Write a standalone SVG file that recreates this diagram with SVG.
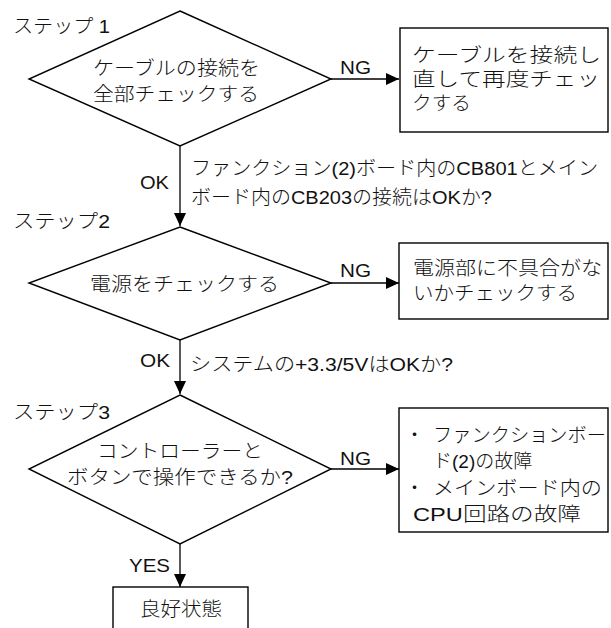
<svg xmlns="http://www.w3.org/2000/svg" width="611" height="628" viewBox="0 0 611 628">
<style>
  .shape { fill: #ffffff; stroke: #000000; stroke-width: 1.4; }
  .conn { fill: none; stroke: #000000; stroke-width: 1.3; }
  text { font-family: "Liberation Sans", "Noto Sans CJK JP", sans-serif; font-size: 19px; font-weight: 300; fill: #111111; }
</style>
<defs>
  <marker id="arrow" markerUnits="userSpaceOnUse" markerWidth="13" markerHeight="12" refX="13" refY="6" orient="auto">
    <path d="M0,0 L13,6 L0,12 z" fill="#000000"/>
  </marker>
</defs>
<rect width="611" height="628" fill="#ffffff"/>

<g id="connectors">
  <line class="conn" x1="331" y1="79" x2="399" y2="79" marker-end="url(#arrow)"/>
  <line class="conn" x1="180" y1="146" x2="180" y2="226" marker-end="url(#arrow)"/>
  <line class="conn" x1="331" y1="283" x2="399" y2="283" marker-end="url(#arrow)"/>
  <line class="conn" x1="180" y1="340" x2="180" y2="394" marker-end="url(#arrow)"/>
  <line class="conn" x1="331" y1="469" x2="399" y2="469" marker-end="url(#arrow)"/>
  <line class="conn" x1="180" y1="544" x2="180" y2="587" marker-end="url(#arrow)"/>
  <text x="340" y="74" textLength="31" lengthAdjust="spacingAndGlyphs">NG</text>
  <text x="140" y="189" textLength="29" lengthAdjust="spacingAndGlyphs">OK</text>
  <text x="191" y="175" textLength="407" lengthAdjust="spacingAndGlyphs">ファンクション(2)ボード内のCB801とメイン</text>
  <text x="191" y="204" textLength="301" lengthAdjust="spacingAndGlyphs">ボード内のCB203の接続はOKか?</text>
  <text x="340" y="277" textLength="31" lengthAdjust="spacingAndGlyphs">NG</text>
  <text x="140" y="367" textLength="30" lengthAdjust="spacingAndGlyphs">OK</text>
  <text x="190" y="371" textLength="263" lengthAdjust="spacingAndGlyphs">システムの+3.3/5VはOKか?</text>
  <text x="340" y="465" textLength="31" lengthAdjust="spacingAndGlyphs">NG</text>
  <text x="129" y="572" textLength="41" lengthAdjust="spacingAndGlyphs">YES</text>
</g>

<g id="step-labels">
  <text x="13" y="33" textLength="97" lengthAdjust="spacingAndGlyphs">ステップ 1</text>
  <text x="13" y="228" textLength="97" lengthAdjust="spacingAndGlyphs">ステップ2</text>
  <text x="13" y="419" textLength="97" lengthAdjust="spacingAndGlyphs">ステップ3</text>
</g>

<g id="step1">
  <polygon class="shape" points="180,11 331,79 180,146 29,79"/>
  <text x="93" y="75" textLength="167" lengthAdjust="spacingAndGlyphs">ケーブルの接続を</text>
  <text x="93" y="101" textLength="166" lengthAdjust="spacingAndGlyphs">全部チェックする</text>
</g>

<g id="reconnect">
  <rect class="shape" x="400" y="28" width="208" height="104"/>
  <text x="412" y="62" textLength="189" lengthAdjust="spacingAndGlyphs">ケーブルを接続し</text>
  <text x="412" y="86" textLength="188" lengthAdjust="spacingAndGlyphs">直して再度チェッ</text>
  <text x="412" y="110" textLength="59" lengthAdjust="spacingAndGlyphs">クする</text>
</g>

<g id="step2">
  <polygon class="shape" points="180,227 331,283 180,340 29,283"/>
  <text x="90" y="291" textLength="189" lengthAdjust="spacingAndGlyphs">電源をチェックする</text>
</g>

<g id="power-check">
  <rect class="shape" x="399" y="243" width="209" height="76"/>
  <text x="413" y="275" textLength="189" lengthAdjust="spacingAndGlyphs">電源部に不具合がな</text>
  <text x="413" y="300" textLength="164" lengthAdjust="spacingAndGlyphs">いかチェックする</text>
</g>

<g id="step3">
  <polygon class="shape" points="180,395 331,469 180,544 29,469"/>
  <text x="97" y="458" textLength="166" lengthAdjust="spacingAndGlyphs">コントローラーと</text>
  <text x="67" y="484" textLength="226" lengthAdjust="spacingAndGlyphs">ボタンで操作できるか?</text>
</g>

<g id="failure">
  <rect class="shape" x="399" y="408" width="209" height="124"/>
  <text x="405" y="442">・</text>
  <text x="433" y="442" textLength="173" lengthAdjust="spacingAndGlyphs">ファンクションボー</text>
  <text x="433" y="468">ド(2)の故障</text>
  <text x="405" y="495">・</text>
  <text x="433" y="495" textLength="169" lengthAdjust="spacingAndGlyphs">メインボード内の</text>
  <text x="413" y="521" textLength="168" lengthAdjust="spacingAndGlyphs">CPU回路の故障</text>
</g>

<g id="good">
  <rect class="shape" x="113" y="587" width="135" height="60"/>
  <text x="140" y="616" textLength="82" lengthAdjust="spacingAndGlyphs">良好状態</text>
</g>
</svg>
